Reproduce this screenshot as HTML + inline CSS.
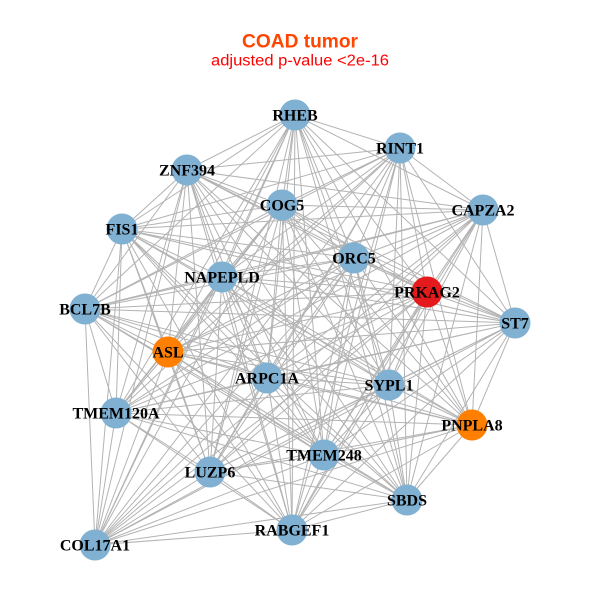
<!DOCTYPE html>
<html><head><meta charset="utf-8"><style>
html,body{margin:0;padding:0;background:#fff;}
svg{display:block;}
.l{font-family:"Liberation Serif",serif;font-weight:bold;font-size:16px;fill:#000;text-anchor:middle;}
</style></head><body>
<svg width="600" height="600" viewBox="0 0 600 600" xmlns="http://www.w3.org/2000/svg">
<rect width="600" height="600" fill="#fff"/>
<text x="300" y="47.5" font-family="Liberation Sans, sans-serif" font-weight="bold" font-size="19" fill="#FF4500" text-anchor="middle" textLength="116" lengthAdjust="spacingAndGlyphs">COAD tumor</text>
<text x="300" y="65.5" font-family="Liberation Sans, sans-serif" font-size="15.5" fill="#FF0000" text-anchor="middle" textLength="178" lengthAdjust="spacingAndGlyphs">adjusted p-value &lt;2e-16</text>
<g stroke="#b3b3b3" stroke-width="1" fill="none">
<path d="M295 115L400 148M295 115L187 170M295 115L282 205M295 115L483 210M295 115L122 229M295 115L354 258M295 115L222 277M295 115L427 292M295 115L85 309M295 115L515 323M295 115L168 352M295 115L267 378M295 115L389 385M295 115L116 413M295 115L472 425M295 115L324 455M295 115L210 472M295 115L407 500M295 115L292 530M295 115L95 545"/>
<path d="M400 148L187 170M400 148L282 205M400 148L483 210M400 148L122 229M400 148L354 258M400 148L222 277M400 148L427 292M400 148L85 309M400 148L515 323M400 148L168 352M400 148L267 378M400 148L389 385M400 148L116 413M400 148L472 425M400 148L324 455M400 148L210 472M400 148L407 500M400 148L292 530M400 148L95 545"/>
<path d="M187 170L282 205M187 170L483 210M187 170L122 229M187 170L354 258M187 170L222 277M187 170L427 292M187 170L85 309M187 170L515 323M187 170L168 352M187 170L267 378M187 170L389 385M187 170L116 413M187 170L472 425M187 170L324 455M187 170L210 472M187 170L407 500M187 170L292 530M187 170L95 545"/>
<path d="M282 205L483 210M282 205L122 229M282 205L354 258M282 205L222 277M282 205L427 292M282 205L85 309M282 205L515 323M282 205L168 352M282 205L267 378M282 205L389 385M282 205L116 413M282 205L472 425M282 205L324 455M282 205L210 472M282 205L407 500M282 205L292 530M282 205L95 545"/>
<path d="M483 210L122 229M483 210L354 258M483 210L222 277M483 210L427 292M483 210L85 309M483 210L515 323M483 210L168 352M483 210L267 378M483 210L389 385M483 210L116 413M483 210L472 425M483 210L324 455M483 210L210 472M483 210L407 500M483 210L292 530M483 210L95 545"/>
<path d="M122 229L354 258M122 229L222 277M122 229L427 292M122 229L85 309M122 229L515 323M122 229L168 352M122 229L267 378M122 229L389 385M122 229L116 413M122 229L472 425M122 229L324 455M122 229L210 472M122 229L407 500M122 229L292 530M122 229L95 545"/>
<path d="M354 258L222 277M354 258L427 292M354 258L85 309M354 258L515 323M354 258L168 352M354 258L267 378M354 258L389 385M354 258L116 413M354 258L472 425M354 258L324 455M354 258L210 472M354 258L407 500M354 258L292 530M354 258L95 545"/>
<path d="M222 277L427 292M222 277L85 309M222 277L515 323M222 277L168 352M222 277L267 378M222 277L389 385M222 277L116 413M222 277L472 425M222 277L324 455M222 277L210 472M222 277L407 500M222 277L292 530M222 277L95 545"/>
<path d="M427 292L85 309M427 292L515 323M427 292L168 352M427 292L267 378M427 292L389 385M427 292L116 413M427 292L472 425M427 292L324 455M427 292L210 472M427 292L407 500M427 292L292 530M427 292L95 545"/>
<path d="M85 309L515 323M85 309L168 352M85 309L267 378M85 309L389 385M85 309L116 413M85 309L472 425M85 309L324 455M85 309L210 472M85 309L407 500M85 309L292 530M85 309L95 545"/>
<path d="M515 323L168 352M515 323L267 378M515 323L389 385M515 323L116 413M515 323L472 425M515 323L324 455M515 323L210 472M515 323L407 500M515 323L292 530M515 323L95 545"/>
<path d="M168 352L267 378M168 352L389 385M168 352L116 413M168 352L472 425M168 352L324 455M168 352L210 472M168 352L407 500M168 352L292 530M168 352L95 545"/>
<path d="M267 378L389 385M267 378L116 413M267 378L472 425M267 378L324 455M267 378L210 472M267 378L407 500M267 378L292 530M267 378L95 545"/>
<path d="M389 385L116 413M389 385L472 425M389 385L324 455M389 385L210 472M389 385L407 500M389 385L292 530M389 385L95 545"/>
<path d="M116 413L472 425M116 413L324 455M116 413L210 472M116 413L407 500M116 413L292 530M116 413L95 545"/>
<path d="M472 425L324 455M472 425L210 472M472 425L407 500M472 425L292 530M472 425L95 545"/>
<path d="M324 455L210 472M324 455L407 500M324 455L292 530M324 455L95 545"/>
<path d="M210 472L407 500M210 472L292 530M210 472L95 545"/>
<path d="M407 500L292 530M407 500L95 545M292 530L95 545"/>
</g>
<g fill="#80B1D3">
<circle cx="295" cy="115" r="15.5"/>
<circle cx="400" cy="148" r="15.5"/>
<circle cx="187" cy="170" r="15.5"/>
<circle cx="282" cy="205" r="15.5"/>
<circle cx="483" cy="210" r="15.5"/>
<circle cx="122" cy="229" r="15.5"/>
<circle cx="354" cy="258" r="15.5"/>
<circle cx="222" cy="277" r="15.5"/>
<circle cx="427" cy="292" r="15.5" fill="#E41A1C"/>
<circle cx="85" cy="309" r="15.5"/>
<circle cx="515" cy="323" r="15.5"/>
<circle cx="168" cy="352" r="15.5" fill="#FF7F00"/>
<circle cx="267" cy="378" r="15.5"/>
<circle cx="389" cy="385" r="15.5"/>
<circle cx="116" cy="413" r="15.5"/>
<circle cx="472" cy="425" r="15.5" fill="#FF7F00"/>
<circle cx="324" cy="455" r="15.5"/>
<circle cx="210" cy="472" r="15.5"/>
<circle cx="407" cy="500" r="15.5"/>
<circle cx="292" cy="530" r="15.5"/>
<circle cx="95" cy="545" r="15.5"/>
</g>
<g class="l">
<text class="l" x="295" y="120.5">RHEB</text>
<text class="l" x="400" y="153.5">RINT1</text>
<text class="l" x="187" y="175.5">ZNF394</text>
<text class="l" x="282" y="210.5">COG5</text>
<text class="l" x="483" y="215.5">CAPZA2</text>
<text class="l" x="122" y="234.5">FIS1</text>
<text class="l" x="354" y="263.5">ORC5</text>
<text class="l" x="222" y="282.5">NAPEPLD</text>
<text class="l" x="427" y="297.5">PRKAG2</text>
<text class="l" x="85" y="314.5">BCL7B</text>
<text class="l" x="515" y="328.5">ST7</text>
<text class="l" x="168" y="357.5">ASL</text>
<text class="l" x="267" y="383.5">ARPC1A</text>
<text class="l" x="389" y="390.5">SYPL1</text>
<text class="l" x="116" y="418.5">TMEM120A</text>
<text class="l" x="472" y="430.5">PNPLA8</text>
<text class="l" x="324" y="460.5">TMEM248</text>
<text class="l" x="210" y="477.5">LUZP6</text>
<text class="l" x="407" y="505.5">SBDS</text>
<text class="l" x="292" y="535.5">RABGEF1</text>
<text class="l" x="95" y="550.5">COL17A1</text>
</g>
</svg>
</body></html>
